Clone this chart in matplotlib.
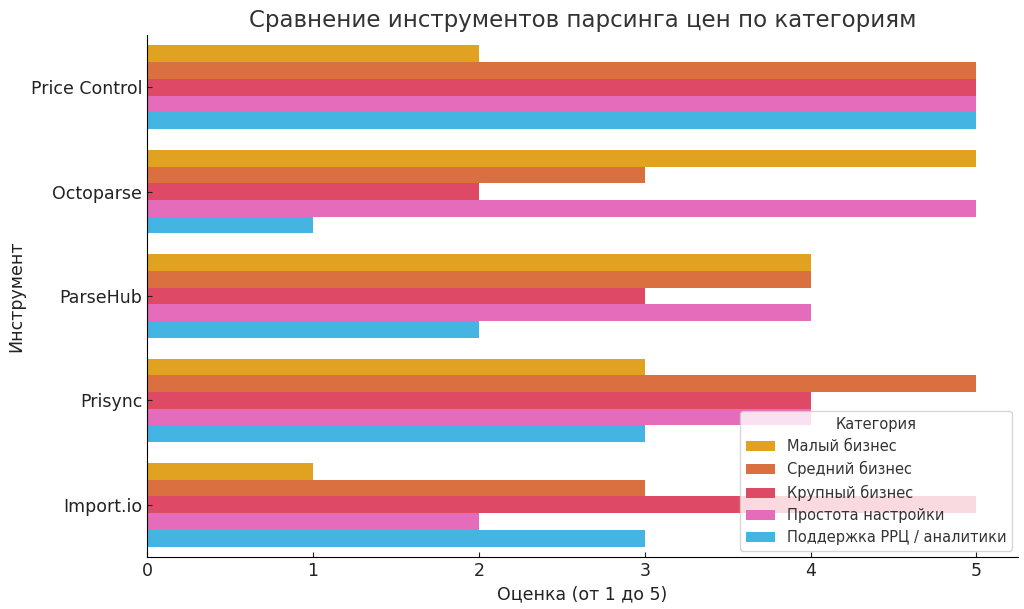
import matplotlib
matplotlib.use("Agg")
import matplotlib.pyplot as plt
import numpy as np

# Tools (top to bottom) and categories
tools = ["Price Control", "Octoparse", "ParseHub", "Prisync", "Import.io"]
categories = ["Малый бизнес", "Средний бизнес", "Крупный бизнес",
              "Простота настройки", "Поддержка РРЦ / аналитики"]

# Scores per category, in the order of tools
small_biz = [2, 5, 4, 3, 1]
mid_biz = [5, 3, 4, 5, 3]
large_biz = [5, 2, 3, 4, 5]
ease_setup = [5, 5, 4, 4, 2]
rrp_support = [5, 1, 2, 3, 3]

series = [small_biz, mid_biz, large_biz, ease_setup, rrp_support]
colors = ["#E1A222", "#DA7040", "#DE4A66", "#E46CBA", "#44B4E2"]

plt.rcParams['font.family'] = ['DejaVu Sans']

fig, ax = plt.subplots(figsize=(10.24, 6.09), dpi=100)
fig.subplots_adjust(left=0.1436, right=0.9941, top=0.9425, bottom=0.0854)

y = np.arange(len(tools))
bar_h = 0.8 / len(categories)

# Draw each category as a row of bars
for i, vals in enumerate(series):
    offset = -0.4 + bar_h * (i + 0.5)
    ax.barh(y + offset, vals, height=bar_h, color=colors[i], label=categories[i])

ax.set_yticks(y)
ax.set_yticklabels(tools)
ax.set_ylim(len(tools) - 0.5, -0.5)
ax.set_xlim(0, 5.25)
ax.set_xticks(range(0, 6))

ax.spines['top'].set_visible(False)
ax.spines['right'].set_visible(False)
ax.tick_params(direction='in', labelsize=12.5, colors='#222222')

ax.set_title("Сравнение инструментов парсинга цен по категориям", fontsize=16.5, color='#333333')
ax.set_xlabel("Оценка (от 1 до 5)", fontsize=12.5, color='#222222')
ax.set_ylabel("Инструмент", fontsize=12.5, color='#222222')

leg = ax.legend(title="Категория", loc='lower right', fontsize=10.5, title_fontsize=10.5,
                labelspacing=0.5, borderaxespad=0.4)
for t in leg.get_texts():
    t.set_color('#333333')
leg.get_title().set_color('#333333')

fig.savefig("out.png", dpi=100)
